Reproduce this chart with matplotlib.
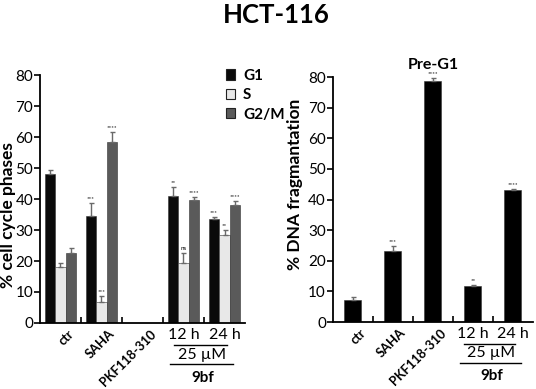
import numpy as np
import matplotlib
matplotlib.use("Agg")
import matplotlib.pyplot as plt
from matplotlib.patches import Patch
from matplotlib.lines import Line2D

plt.rcParams['font.family'] = ['Lato', 'DejaVu Sans']

categories = ["ctr", "SAHA", "PKF118-310", "12 h", "24 h"]
phases = ["G1", "S", "G2/M"]

# cell cycle (PKF118-310 has no bars)
g1 = [48.2, 34.6, 0, 41.0, 33.5]
g1_err = [1.2, 4.0, 0, 3.0, 0.6]
s = [18.2, 6.7, 0, 19.2, 28.3]
s_err = [1.3, 2.0, 0, 3.5, 1.7]
g2m = [22.6, 58.3, 0, 39.8, 38.1]
g2m_err = [1.6, 3.4, 0, 1.0, 1.4]
g1_sig = ["", "***", "", "**", "***"]
s_sig = ["", "***", "", "ns", "**"]
g2m_sig = ["", "****", "", "****", "****"]

# pre-G1
preg1 = [7.2, 23.2, 78.8, 11.8, 43.0]
preg1_err = [1.0, 1.8, 1.0, 0.3, 0.6]
preg1_sig = ["", "***", "****", "**", "****"]

colors = ["#0a0a0a", "#e8e8e8", "#5a5a5a"]
err_color = "#6a6a6a"

fig = plt.figure(figsize=(5.36, 3.89), dpi=100)
ax1 = fig.add_axes([0.0746, 0.1697, 0.3825, 0.6373])
ax2 = fig.add_axes([0.621, 0.172, 0.373, 0.630])

x = np.arange(len(categories))


def style_axes(ax):
    ax.set_xlim(-0.5, 4.5)
    ax.set_ylim(0, 80)
    ax.set_yticks(range(0, 81, 10))
    ax.spines['top'].set_visible(False)
    ax.spines['right'].set_visible(False)
    ax.spines['left'].set_linewidth(1.3)
    ax.spines['bottom'].set_linewidth(1.3)
    ax.set_xticks(np.arange(0.5, 4.5, 1.0))
    ax.set_xticklabels([])
    ax.tick_params(axis='x', direction='in', length=4, width=1.2)
    ax.tick_params(axis='y', direction='out', length=4, width=1.2,
                   labelsize=11, pad=1)
    for i, lab in enumerate(categories):
        if lab.endswith(" h"):
            ax.text(i, -4.0, lab, ha='center', va='center', fontsize=11.5)
        else:
            ax.text(i + 0.17, -1.5, lab, ha='right', va='top', fontsize=9.3,
                    rotation=45, rotation_mode='anchor', fontweight='bold')
    # group brackets
    ax.add_line(Line2D([2.78, 4.05], [-7.1, -7.1], color='black', lw=1,
                       clip_on=False))
    ax.text(3.45, -10.2, "25 µM", ha='center', va='center', fontsize=11.5)
    ax.add_line(Line2D([2.67, 4.2], [-13.3, -13.3], color='black', lw=1,
                       clip_on=False))
    ax.text(3.47, -17.6, "9bf", ha='center', va='center', fontsize=11,
            fontweight='bold')


def bars(ax, pos, vals, errs, sigs, color, width):
    for p, v, e, sg in zip(pos, vals, errs, sigs):
        if v == 0:
            continue
        ax.bar(p, v, width, color=color, edgecolor='#333333', linewidth=0.4)
        ax.errorbar(p, v, yerr=[[0], [e]], fmt='none', ecolor=err_color,
                    elinewidth=1.0, capsize=1.8, capthick=1.0)
        if sg:
            ax.text(p, v + e + 0.6, sg, ha='center', va='bottom', fontsize=4.5)


w = 0.256
bars(ax1, x - w, g1, g1_err, g1_sig, colors[0], w)
bars(ax1, x, s, s_err, s_sig, colors[1], w)
bars(ax1, x + w, g2m, g2m_err, g2m_sig, colors[2], w)
style_axes(ax1)
ax1.set_ylabel("% cell cycle phases", fontsize=12.5, fontweight='bold')
ax1.yaxis.set_label_coords(-0.118, 0.435)

handles = [Patch(facecolor=c, edgecolor='#222222', linewidth=0.8) for c in colors]
ax1.legend(handles, phases, loc='upper left', bbox_to_anchor=(0.905, 1.025),
           frameon=False, handlelength=0.65, handleheight=0.65,
           handletextpad=0.5, labelspacing=0.35, borderaxespad=0, borderpad=0,
           prop={'weight': 'bold', 'size': 11})

bars(ax2, x, preg1, preg1_err, preg1_sig, "#000000", 0.42)
style_axes(ax2)
ax2.set_ylabel("% DNA fragmantation", fontsize=12.5, fontweight='bold')
ax2.yaxis.set_label_coords(-0.15, 0.56)
ax2.set_title("Pre-G1", fontsize=11.5, fontweight='bold', pad=6)

fig.text(0.515, 0.962, "HCT-116", ha='center', va='center', fontsize=18.5,
         fontweight='bold')

fig.savefig("out.png", dpi=100)
